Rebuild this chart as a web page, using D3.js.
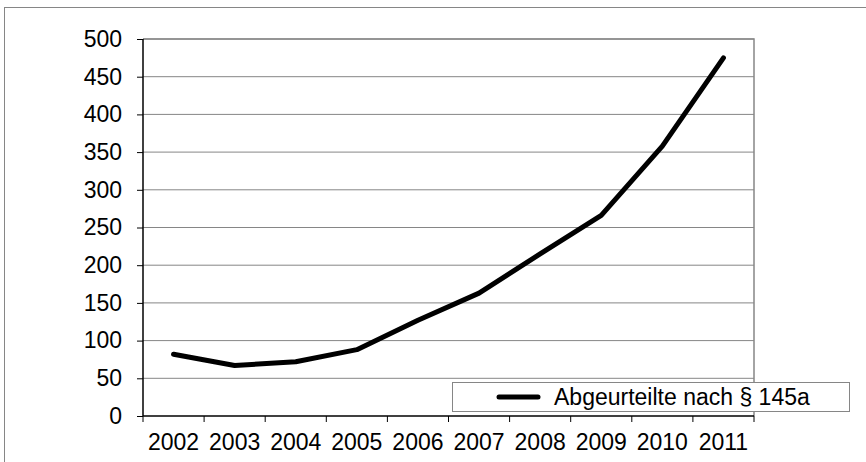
<!DOCTYPE html>
<html><head><meta charset="utf-8">
<script src="https://cdn.jsdelivr.net/npm/d3@7"></script>
<style>body{margin:0;background:#fff}svg{display:block}text{font-family:"Liberation Sans",Arial,sans-serif;fill:#000}</style>
</head><body><svg id="c" width="866" height="462"></svg>
<script>
const years = ["2002","2003","2004","2005","2006","2007","2008","2009","2010","2011"];
const values = [82, 67, 72, 88, 127, 163, 215, 266, 358, 475];
const yTicks = [0,50,100,150,200,250,300,350,400,450,500];
const seriesName = "Abgeurteilte nach § 145a";

const FS = 23;
const svg = d3.select("#c");
const L = 143, R = 754, T = 39, B = 416;
const x = d3.scaleBand().domain(years).range([L, R]);
const y = d3.scaleLinear().domain([0, 500]).range([B, T]);

// outer chart border
svg.append("rect").attr("x", 4.5).attr("y", 7.5).attr("width", 1000).attr("height", 1000)
  .attr("fill", "none").attr("stroke", "#868686");

// gridlines
svg.append("g").selectAll("line").data(yTicks.filter(d => d > 0)).join("line")
  .attr("x1", L).attr("x2", R).attr("y1", d => y(d)).attr("y2", d => y(d))
  .attr("stroke", "#868686").attr("stroke-width", 1);

// plot border top/right
svg.append("path").attr("d", `M${L},${T}H${R}V${B}`).attr("fill", "none").attr("stroke", "#868686").attr("stroke-width", 1.5);

// y axis
const yAxis = d3.axisLeft(y).tickValues(yTicks).tickSize(6).tickPadding(15);
const gy = svg.append("g").attr("transform", `translate(${L},0)`).call(yAxis);
gy.select(".domain").attr("stroke", "#000").attr("stroke-width", 1.5).attr("d", `M0,${T}V${B}`);
gy.selectAll(".tick line").attr("stroke", "#000");
gy.selectAll(".tick text").attr("font-size", FS).attr("fill", "#000");

// x axis
const gx = svg.append("g").attr("transform", `translate(0,${B})`);
gx.append("line").attr("x1", L).attr("x2", R).attr("stroke", "#000").attr("stroke-width", 1.5);
const edges = years.map(d => x(d)).concat([R]);
gx.selectAll("line.t").data(edges).join("line").attr("class", "t")
  .attr("x1", d => d).attr("x2", d => d).attr("y1", 0).attr("y2", 6).attr("stroke", "#000");
gx.selectAll("text").data(years).join("text")
  .attr("x", d => x(d) + x.bandwidth() / 2).attr("y", 34)
  .attr("text-anchor", "middle").attr("font-size", FS).text(d => d);

// line
const line = d3.line().x((d, i) => x(years[i]) + x.bandwidth() / 2).y(d => y(d));
svg.append("path").datum(values).attr("d", line).attr("fill", "none")
  .attr("stroke", "#000").attr("stroke-width", 5).attr("stroke-linecap", "round").attr("stroke-linejoin", "round");

// legend
const lg = svg.append("g");
lg.append("rect").attr("x", 452.5).attr("y", 382.5).attr("width", 397).attr("height", 29)
  .attr("fill", "#fff").attr("stroke", "#868686");
lg.append("line").attr("x1", 499).attr("x2", 538).attr("y1", 397).attr("y2", 397)
  .attr("stroke", "#000").attr("stroke-width", 5).attr("stroke-linecap", "round");
lg.append("text").attr("x", 554).attr("y", 405).attr("font-size", FS).text(seriesName);
</script></body></html>
